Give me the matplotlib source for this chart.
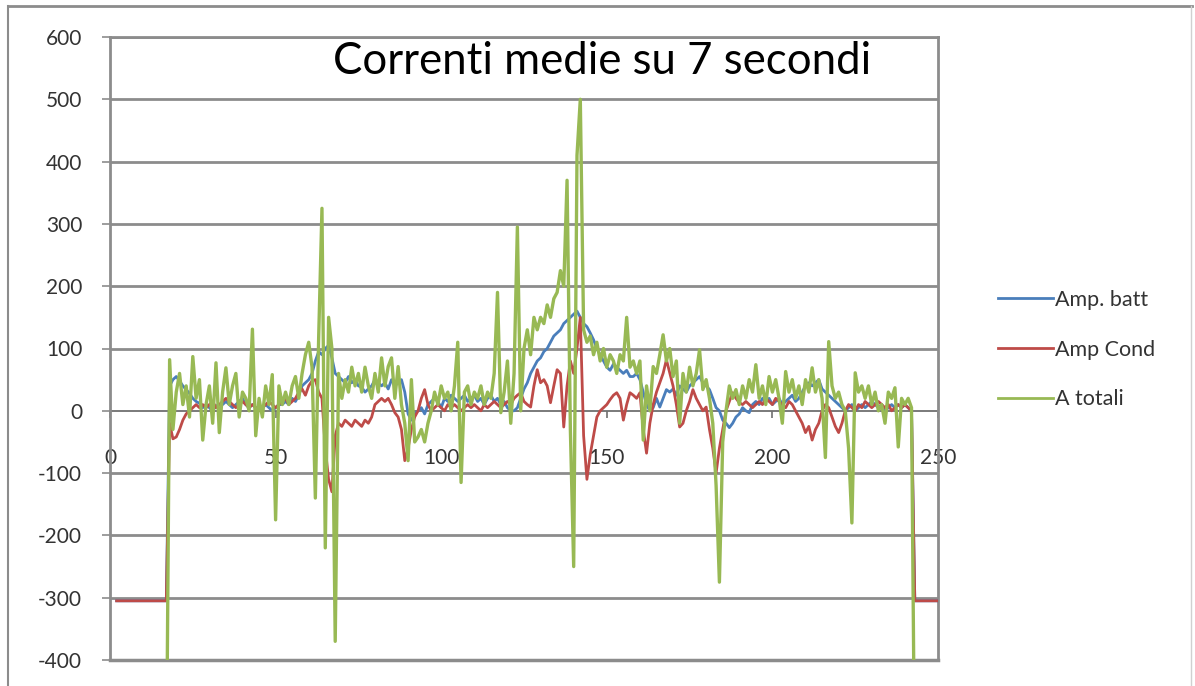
import matplotlib
matplotlib.use("Agg")
import matplotlib.pyplot as plt
from matplotlib.lines import Line2D

plt.rcParams['font.family'] = ['Lato', 'DejaVu Sans']

# ---- data ----
x_start = 2
x_end = 250
x_values = list(range(x_start, x_end + 1))

offline_value = -305.0      # value before/after the measured window (batt & cond)
offline_total = -610.0      # total before/after the measured window

amp_batt_active = [
    40, 50, 55, 48, 40, 34, 28, 20, 15, 12,          # 18-27
    5, 10, 5, 0, 8, 10, 10, 15, 10, 5,               # 28-37
    10, 15, 20, 10, 5, 10, 5, 0, 5, 10,              # 38-47
    5, 0, 5, 10, 10, 15, 10, 20, 15, 25,             # 48-57
    40, 45, 50, 60, 80, 95, 90, 100, 105, 85,        # 58-67
    60, 55, 50, 45, 55, 45, 50, 40, 38, 30,          # 68-77
    35, 40, 50, 45, 40, 45, 35, 50, 40, 45,          # 78-87
    50, 30, -5, -15, -5, 0, 5, -5, 10, 15,           # 88-97
    20, 15, 5, 20, 15, 25, 20, 15, 20, 25,           # 98-107
    15, 20, 25, 15, 20, 10, 20, 25, 15, 20,          # 108-117
    10, 15, 5, 0, 0, 5, 20, 35, 45, 60,              # 118-127
    70, 80, 85, 95, 100, 110, 120, 125, 130, 140,    # 128-137
    145, 150, 155, 160, 150, 140, 135, 125, 114, 100,  # 138-147
    90, 80, 70, 65, 75, 70, 65, 60, 65, 55,          # 148-157
    55, 60, 50, 30, 10, 0, 5, 20, 6, 20,             # 158-167
    34, 30, 35, 25, 40, 35, 30, 40, 45, 50,          # 168-177
    55, 45, 40, 34, 20, 5, 0, -15, -20, -27,         # 178-187
    -20, -10, -5, 5, 0, -3, 10, 15, 10, 20,          # 188-197
    15, 20, 10, 15, 20, 10, 15, 20, 25, 15,          # 198-207
    20, 30, 40, 45, 40, 45, 50, 35, 30, 25,          # 208-217
    20, 15, 10, 5, 0, 5, 10, 0, 5, 10,               # 218-227
    5, 10, 15, 10, 5, 10, 0, 5, 10, 5,               # 228-237
    10, 5, 10, 5, 0,                                 # 238-242
]

amp_cond_active = [
    -20, -45, -42, -30, -15, -5, 0, 5, 10, 5,        # 18-27
    10, 5, 10, 15, 5, 10, 15, 20, 15, 10,            # 28-37
    5, 10, 15, 10, 5, 10, 5, 0, 5, 10,               # 38-47
    15, 10, 5, 10, 15, 20, 10, 15, 20, 30,           # 48-57
    35, 25, 40, 48, 50, 30, 20, -60, -110, -130,     # 58-67
    -40, -20, -25, -15, -20, -25, -15, -20, -25, -15,  # 68-77
    -20, -10, 10, 15, 20, 15, 20, 10, -3, -10,       # 78-87
    -30, -80, -60, -30, -10, 0, 20, 34, 10, 0,       # 88-97
    5, 10, 5, 0, 10, 5, 10, 5, 0, 5,                 # 98-107
    10, 5, 10, 5, 0, 10, 5, 10, 15, 10,              # 108-117
    5, 10, 15, 10, 20, 25, 29, 15, 10, 6,            # 118-127
    40, 66, 45, 50, 40, 13, 40, 66, 60, -26,         # 128-137
    40, 80, 60, 100, 150, -40, -110, -70, -40, -10,  # 138-147
    0, 5, 10, 18, 25, 29, 20, -15, 10, 29,           # 148-157
    25, 20, 29, -30, -68, -20, 10, 30, 45, 60,       # 158-167
    82, 61, 40, 10, -26, -20, 0, 15, 34, 20,         # 168-177
    10, 0, 6, -30, -60, -100, -60, -30, 0, 15,       # 178-187
    29, 20, 13, 10, 15, 10, 5, 10, 15, 10,           # 188-197
    20, 15, 10, 20, 15, 10, 5, 15, 10, 0,            # 198-207
    -10, -20, -35, -25, -47, -30, -20, 0, 10, 5,     # 208-217
    -10, -25, -35, -20, 0, 10, 5, 0, 10, 5,          # 218-227
    15, 10, 5, 10, 15, 10, 5, 10, 0, 5,              # 228-237
    10, 5, 10, 5, 0,                                 # 238-242
]

a_totali_active = [
    82, -30, 30, 60, 10, 40, -10, 87, 20, 50,        # 18-27
    -47, 10, 40, -20, 77, -35, 30, 69, 10, 40,       # 28-37
    60, -10, 30, 20, 0, 131, -40, 20, -10, 40,       # 38-47
    10, 58, -175, 40, 10, 30, 10, 40, 55, 20,        # 48-57
    60, 90, 110, 70, -140, 117, 325, -220, 150, 100, # 58-67
    -370, 60, 20, 50, 30, 70, 40, 60, 30, 70,        # 68-77
    40, 20, 60, 30, 85, 40, 71, 85, 20, 71,          # 78-87
    10, -20, -80, 50, -50, -42, -30, -50, -20, 0,    # 88-97
    30, 10, 40, 20, 30, 0, 40, 110, -115, 30,        # 98-107
    40, 10, 30, 20, 40, 10, 30, 20, 60, 190,         # 108-117
    -3, 30, 80, -20, 60, 295, 0, 100, 130, 90,       # 118-127
    150, 130, 150, 140, 170, 150, 180, 190, 225, 200,  # 128-137
    370, -30, -250, 410, 500, 130, 110, 120, 90, 110,  # 138-147
    80, 100, 70, 90, 80, 60, 90, 80, 150, 70,        # 148-157
    80, 60, 80, -47, 40, 0, 71, 60, 90, 122,         # 158-167
    80, 100, 55, 80, -20, 60, 30, 70, 40, 60,        # 168-177
    98, 34, 50, 20, -20, -120, -275, -50, 0, 40,     # 178-187
    20, 34, 10, 40, 20, 50, 30, 74, 20, 40,          # 188-197
    10, 55, 30, 50, 20, -20, 63, 30, 50, 20,         # 198-207
    40, 10, 50, 30, 69, 30, 50, 20, -75, 111,        # 208-217
    40, 20, 30, 10, 0, -60, -180, 61, 30, 40,        # 218-227
    20, 40, 10, 30, 0, 10, -20, 30, 20, 37,          # 228-237
    -58, 20, 10, 20, 5,                              # 238-242
]

series_labels = ["Amp. batt", "Amp Cond", "A totali"]
title_text = "Correnti medie su 7 secondi"
x_ticks = [0, 50, 100, 150, 200, 250]
y_ticks = [-400, -300, -200, -100, 0, 100, 200, 300, 400, 500, 600]

first_active = 18
last_active = 242
n_before = first_active - x_start
n_after = x_end - last_active

amp_batt = [offline_value] * n_before + amp_batt_active + [offline_value] * n_after
amp_cond = [offline_value] * n_before + amp_cond_active + [offline_value] * n_after
a_totali = [offline_total] * n_before + a_totali_active + [offline_total] * n_after

colors = ["#4A7EBB", "#BE4B48", "#98B954"]

# ---- figure ----
W, H = 1195, 686
fig = plt.figure(figsize=(W / 100, H / 100), dpi=100)
fig.patch.set_facecolor("white")

ax_left, ax_right = 110 / W, 938 / W
ax_top, ax_bottom = 1 - 37 / H, 1 - 660 / H
ax = fig.add_axes([ax_left, ax_bottom, ax_right - ax_left, ax_top - ax_bottom])

ax.set_xlim(0, 250)
ax.set_ylim(-400, 600)

grid_color = "#8C8C8C"
for yv in y_ticks:
    if yv == 0:
        continue
    ax.axhline(yv, color=grid_color, lw=2.0, zorder=1)

lines = []
widths = [2.0, 2.0, 2.4]
for vals, col, lab, lw in zip([amp_batt, amp_cond, a_totali], colors, series_labels, widths):
    ln, = ax.plot(x_values, vals, color=col, lw=lw, label=lab, zorder=3,
                  solid_joinstyle="round", clip_on=True)
    lines.append(ln)

# spines
for s in ["top", "right"]:
    ax.spines[s].set_visible(True)
    ax.spines[s].set_color(grid_color)
    ax.spines[s].set_linewidth(2.0)
ax.spines["left"].set_color(grid_color)
ax.spines["left"].set_linewidth(2.0)
ax.spines["bottom"].set_position(("data", 0))
ax.spines["bottom"].set_color("#707070")
ax.spines["bottom"].set_linewidth(1.3)
ax.spines["bottom"].set_zorder(2)
# frame bottom line at -400
ax.axhline(-400, color=grid_color, lw=2.5, zorder=1, clip_on=False)

ax.set_xticks(x_ticks)
ax.set_yticks(y_ticks)
ax.set_xticklabels([str(t) for t in x_ticks])
ax.set_yticklabels([str(t) for t in y_ticks])
ax.tick_params(axis="x", direction="out", length=5, width=1.2, color="#707070",
               pad=22, labelsize=15, labelcolor="#333333")
ax.tick_params(axis="y", direction="out", length=6, width=1.2, color=grid_color,
               pad=14, labelsize=15, labelcolor="#333333")

# title inside plot
fig.text(602 / W, 1 - 62 / H, title_text, fontsize=31.5, color="black",
         ha="center", va="center")

# legend
leg = fig.legend(handles=lines, labels=series_labels, loc="upper left",
                 bbox_to_anchor=(998 / W, 1 - 290 / H), frameon=False,
                 fontsize=15.5, handlelength=2.55, handletextpad=0.12,
                 labelspacing=1.38, borderaxespad=0, borderpad=0)
for t in leg.get_texts():
    t.set_color("#333333")
for lh in leg.get_lines():
    lh.set_linewidth(2.0)

# outer chart border
border_col = "#8C8C8C"
fig.add_artist(Line2D([8 / W, 1192 / W], [1 - 6 / H, 1 - 6 / H], color=border_col, lw=2.0))
fig.add_artist(Line2D([8 / W, 8 / W], [1 - 6 / H, 0], color=border_col, lw=1.5))
fig.add_artist(Line2D([1191 / W, 1191 / W], [1 - 6 / H, 0], color="#D0D0D0", lw=1.0))

fig.savefig("out.png", dpi=100, facecolor="white")
